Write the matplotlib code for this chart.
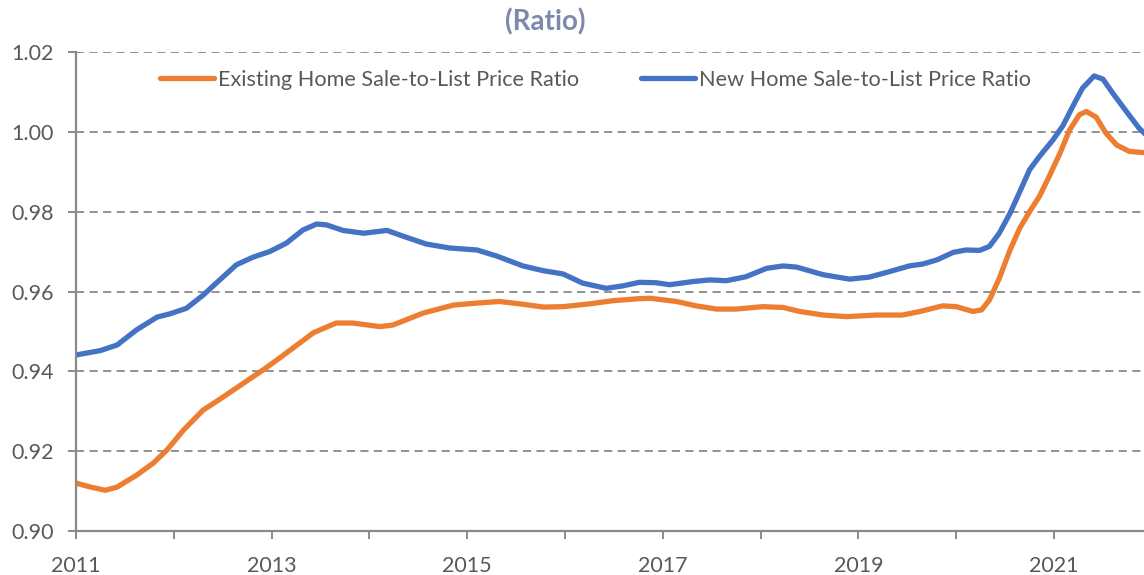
import matplotlib
matplotlib.use("Agg")
import matplotlib.pyplot as plt
from matplotlib.ticker import MultipleLocator, FormatStrFormatter

plt.rcParams['font.family'] = ['Lato', 'DejaVu Sans']

# ── Data (x in decimal years) ────────────────────────────────────────────────
existing_t = [2011.00, 2011.15, 2011.30, 2011.42, 2011.62, 2011.79, 2011.93, 2012.10,
              2012.30, 2012.47, 2012.71, 2012.91, 2013.08, 2013.26, 2013.43, 2013.66,
              2013.83, 2014.11, 2014.24, 2014.55, 2014.86, 2015.10, 2015.33, 2015.54,
              2015.78, 2015.98, 2016.25, 2016.49, 2016.76, 2016.87, 2017.14, 2017.34,
              2017.55, 2017.75, 2018.02, 2018.23, 2018.40, 2018.64, 2018.88, 2019.18,
              2019.45, 2019.63, 2019.86, 2020.00, 2020.17, 2020.26, 2020.34, 2020.44,
              2020.55, 2020.65, 2020.75, 2020.85, 2020.95, 2021.06, 2021.16, 2021.26,
              2021.33, 2021.43, 2021.53, 2021.64, 2021.77, 2021.92]
existing_v = [0.9120, 0.9110, 0.9102, 0.9110, 0.9140, 0.9170, 0.9203, 0.9253,
              0.9303, 0.9330, 0.9370, 0.9403, 0.9433, 0.9466, 0.9497, 0.9521,
              0.9521, 0.9512, 0.9516, 0.9546, 0.9566, 0.9571, 0.9575, 0.9569,
              0.9561, 0.9562, 0.9569, 0.9577, 0.9582, 0.9583, 0.9575, 0.9564,
              0.9556, 0.9556, 0.9562, 0.9560, 0.9550, 0.9541, 0.9537, 0.9541,
              0.9541, 0.9550, 0.9564, 0.9562, 0.9550, 0.9554, 0.9579, 0.9633,
              0.9704, 0.9759, 0.9800, 0.9838, 0.9888, 0.9946, 1.0005, 1.0043,
              1.0051, 1.0037, 0.9997, 0.9967, 0.9951, 0.9948]

new_t = [2011.00, 2011.25, 2011.42, 2011.62, 2011.83, 2011.96, 2012.13, 2012.30,
         2012.47, 2012.64, 2012.81, 2012.98, 2013.15, 2013.32, 2013.46, 2013.56,
         2013.73, 2013.94, 2014.18, 2014.34, 2014.58, 2014.82, 2015.10, 2015.30,
         2015.57, 2015.78, 2015.98, 2016.18, 2016.42, 2016.59, 2016.76, 2016.93,
         2017.07, 2017.31, 2017.48, 2017.65, 2017.85, 2018.06, 2018.23, 2018.37,
         2018.64, 2018.91, 2019.11, 2019.32, 2019.52, 2019.66, 2019.80, 2019.97,
         2020.10, 2020.24, 2020.34, 2020.44, 2020.55, 2020.65, 2020.75, 2020.85,
         2020.99, 2021.09, 2021.19, 2021.29, 2021.41, 2021.50, 2021.60, 2021.74,
         2021.87, 2021.93]
new_v = [0.9441, 0.9452, 0.9466, 0.9504, 0.9536, 0.9544, 0.9558, 0.9591,
         0.9629, 0.9667, 0.9686, 0.9700, 0.9721, 0.9754, 0.9769, 0.9767,
         0.9753, 0.9746, 0.9753, 0.9739, 0.9719, 0.9709, 0.9704, 0.9689,
         0.9664, 0.9652, 0.9644, 0.9621, 0.9608, 0.9614, 0.9623, 0.9622,
         0.9617, 0.9625, 0.9629, 0.9627, 0.9637, 0.9658, 0.9664, 0.9661,
         0.9642, 0.9631, 0.9636, 0.9650, 0.9664, 0.9669, 0.9679, 0.9698,
         0.9704, 0.9703, 0.9713, 0.9746, 0.9796, 0.9850, 0.9905, 0.9938,
         0.9980, 1.0015, 1.0063, 1.0109, 1.0140, 1.0132, 1.0097, 1.0051,
         1.0009, 0.9995]

series_labels = ["Existing Home Sale-to-List Price Ratio", "New Home Sale-to-List Price Ratio"]
year_labels = [2011, 2013, 2015, 2017, 2019, 2021]

ORANGE = '#ED7D31'
BLUE = '#4472C4'
GREY = '#898989'
TEXT = '#595959'

fig = plt.figure(figsize=(11.44, 5.75), dpi=100)
ax = fig.add_axes([76 / 1144, 1 - 531 / 575, 1 - 76 / 1144, (531 - 52) / 575])

ax.plot(existing_t, existing_v, color=ORANGE, lw=3.8, label=series_labels[0],
        solid_capstyle='round', solid_joinstyle='round')
ax.plot(new_t, new_v, color=BLUE, lw=3.8, label=series_labels[1],
        solid_capstyle='round', solid_joinstyle='round')

ax.set_xlim(2011, 2021.92)
ax.set_ylim(0.90, 1.02)
ax.yaxis.set_major_locator(MultipleLocator(0.02))
ax.yaxis.set_major_formatter(FormatStrFormatter('%.2f'))
ax.set_xticks(range(2011, 2022))
ax.set_xticklabels([str(y) if y in year_labels else '' for y in range(2011, 2022)])

ax.grid(axis='y', color=GREY, ls=(0, (4.5, 3)), lw=1.3)
ax.set_axisbelow(True)
for side in ('top', 'right'):
    ax.spines[side].set_visible(False)
for side in ('left', 'bottom'):
    ax.spines[side].set_color(GREY)
    ax.spines[side].set_linewidth(1.6)
ax.tick_params(axis='both', colors=GREY, labelcolor=TEXT, labelsize=15.5,
               length=6, width=1.4, direction='out')
ax.tick_params(axis='x', pad=12)
ax.tick_params(axis='y', pad=10)

leg = ax.legend(loc='upper left', bbox_to_anchor=(64 / 1068, 1.004), ncol=2,
                frameon=False, fontsize=15.6, handlelength=2.5, handletextpad=0.2,
                columnspacing=2.85, labelcolor=TEXT)

fig.text(545 / 1144, 1 - 22 / 575, '(Ratio)', ha='center', va='center',
         fontsize=20, fontweight='bold', color='#7F88AD')

fig.savefig('out.png', dpi=100)
